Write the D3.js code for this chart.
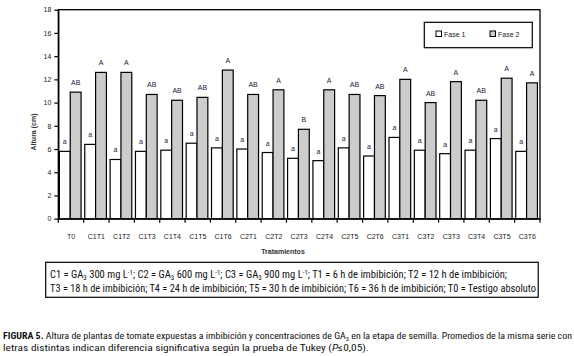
<!DOCTYPE html>
<html>
<head>
<meta charset="utf-8">
<script src="https://cdn.jsdelivr.net/npm/d3@7"></script>
<style>
  body { margin: 0; background: #fff; }
  svg { display: block; }
  .tick text { font-family: Arial, "Liberation Sans", sans-serif; font-size: 7px; fill: #222; }
</style>
</head>
<body>
<div id="chart"></div>
<script>
// Data
var categories = ["T0", "C1T1", "C1T2", "C1T3", "C1T4", "C1T5", "C1T6",
                  "C2T1", "C2T2", "C2T3", "C2T4", "C2T5", "C2T6",
                  "C3T1", "C3T2", "C3T3", "C3T4", "C3T5", "C3T6"];
var fase1 = [5.8, 6.4, 5.1, 5.8, 5.9, 6.5, 6.1, 6.0, 5.7, 5.2, 5.0, 6.1, 5.4, 7.0, 5.9, 5.6, 5.9, 6.9, 5.8];
var fase2 = [10.9, 12.6, 12.6, 10.7, 10.2, 10.45, 12.8, 10.7, 11.1, 7.7, 11.1, 10.7, 10.6, 12.0, 10.0, 11.8, 10.2, 12.1, 11.7];
var letras1 = ["a", "a", "a", "a", "a", "a", "a", "a", "a", "a", "a", "a", "a", "a", "a", "a", "a", "a", "a"];
var letras2 = ["AB", "A", "A", "AB", "AB", "AB", "A", "AB", "A", "B", "A", "AB", "AB", "A", "AB", "A", "AB", "A", "A"];
var series = ["Fase 1", "Fase 2"];
var yTicks = [0, 2, 4, 6, 8, 10, 12, 14, 16, 18];

var data = categories.map(function(c, i) {
    return {cat: c, values: [
        {serie: "Fase 1", v: fase1[i], letra: letras1[i]},
        {serie: "Fase 2", v: fase2[i], letra: letras2[i]}
    ]};
});

var W = 574, H = 356;
var plotL = 58.3, plotR = 540, plotT = 9.7, plotB = 218.7;
var font = "Arial, 'Liberation Sans', sans-serif";
var narrow = "'Liberation Sans Narrow', 'Arial Narrow', 'Roboto Condensed', Arial, sans-serif";

var svg = d3.select("#chart")
  .append("svg")
    .attr("width", W)
    .attr("height", H);

// Scales
var x = d3.scaleBand()
    .domain(categories)
    .range([plotL, plotR])
    .padding(0);

var x1 = d3.scaleBand()
    .domain(series)
    .range([0, x.bandwidth()])
    .paddingInner(0)
    .paddingOuter(0.17)
    .align(0.3);

var y = d3.scaleLinear()
    .domain([0, 18])
    .range([plotB, plotT]);

var color = d3.scaleOrdinal().domain(series).range(["#ffffff", "#cccccc"]);

// Frame
svg.append("rect")
    .attr("x", plotL).attr("y", plotT)
    .attr("width", plotR - plotL).attr("height", plotB - plotT)
    .attr("fill", "none").attr("stroke", "#000").attr("stroke-width", 1.3);

// Y axis
var yAxis = svg.append("g")
    .attr("transform", "translate(" + plotL + ",0)")
    .call(d3.axisLeft(y).tickValues(yTicks).tickSize(4).tickSizeOuter(0).tickPadding(3));
yAxis.select(".domain").attr("stroke-width", 1.3);
yAxis.selectAll(".tick line").attr("stroke-width", 1.2);

// X axis: labels centred, ticks at category boundaries
var xAxis = svg.append("g")
    .attr("transform", "translate(0," + plotB + ")")
    .call(d3.axisBottom(x).tickSize(0).tickPadding(15));
xAxis.select(".domain").attr("stroke-width", 1.3);

var bounds = categories.map(function(c) { return x(c); }).concat([plotR]);
svg.append("g")
  .selectAll("line")
  .data(bounds)
  .enter()
  .append("line")
    .attr("x1", function(d) { return d; })
    .attr("x2", function(d) { return d; })
    .attr("y1", plotB)
    .attr("y2", plotB + 4)
    .attr("stroke", "#000")
    .attr("stroke-width", 1.2);

// Bars
var groups = svg.append("g")
  .selectAll("g")
  .data(data)
  .enter()
  .append("g")
    .attr("transform", function(d) { return "translate(" + x(d.cat) + ",0)"; });

groups.selectAll("rect")
  .data(function(d) { return d.values; })
  .enter()
  .append("rect")
    .attr("x", function(d) { return x1(d.serie); })
    .attr("y", function(d) { return y(d.v); })
    .attr("width", x1.bandwidth())
    .attr("height", function(d) { return plotB - y(d.v); })
    .attr("fill", function(d) { return color(d.serie); })
    .attr("stroke", "#000")
    .attr("stroke-width", 1.2);

groups.selectAll("text")
  .data(function(d) { return d.values; })
  .enter()
  .append("text")
    .attr("x", function(d) { return x1(d.serie) + x1.bandwidth() / 2; })
    .attr("y", function(d) { return y(d.v) - 7; })
    .attr("text-anchor", "middle")
    .style("font-family", font)
    .style("font-size", "7px")
    .style("fill", "#1a1a3a")
    .text(function(d) { return d.letra; });

// Axis titles
svg.append("text")
    .attr("transform", "translate(35.5,132) rotate(-90)")
    .attr("text-anchor", "middle")
    .style("font-family", font)
    .style("font-size", "7px")
    .style("font-weight", "bold")
    .style("fill", "#333")
    .text("Altura (cm)");

svg.append("text")
    .attr("x", 283)
    .attr("y", 253.5)
    .attr("text-anchor", "middle")
    .style("font-family", font)
    .style("font-size", "7px")
    .style("font-weight", "bold")
    .style("fill", "#333")
    .text("Tratamientos");

// Legend
var legend = svg.append("g");
legend.append("rect")
    .attr("x", 424.3).attr("y", 22.3)
    .attr("width", 108).attr("height", 25.4)
    .attr("fill", "#fff").attr("stroke", "#000").attr("stroke-width", 1.2);

var legendX = d3.scaleOrdinal().domain(series).range([436, 490]);
var items = legend.selectAll(".item")
  .data(series)
  .enter()
  .append("g")
    .attr("class", "item")
    .attr("transform", function(d) { return "translate(" + legendX(d) + ",31)"; });
items.append("rect")
    .attr("width", 5.5).attr("height", 5.5)
    .attr("fill", function(d) { return color(d); })
    .attr("stroke", "#000").attr("stroke-width", 1);
items.append("text")
    .attr("x", 8).attr("y", 5.5)
    .style("font-family", font)
    .style("font-size", "7px")
    .style("fill", "#222")
    .text(function(d) { return d; });

// Note box
svg.append("rect")
    .attr("x", 45.7).attr("y", 262.3)
    .attr("width", 492.5).attr("height", 35)
    .attr("fill", "none").attr("stroke", "#000").attr("stroke-width", 1.2);

function noteLine(parts, xPos, yPos, len, size) {
    var t = svg.append("text")
        .attr("x", xPos).attr("y", yPos)
        .attr("textLength", len)
        .attr("lengthAdjust", "spacingAndGlyphs")
        .style("font-family", narrow)
        .style("font-size", size + "px")
        .style("fill", "#111");
    parts.forEach(function(p) {
        var s = t.append("tspan").text(p.t);
        if (p.sub) s.attr("baseline-shift", "-25%").style("font-size", (size * 0.65) + "px");
        if (p.sup) s.attr("baseline-shift", "40%").style("font-size", (size * 0.65) + "px");
        if (p.b) s.style("font-weight", "bold");
        if (p.i) s.style("font-style", "italic");
    });
    return t;
}

noteLine([
    {t: "C1 = GA"}, {t: "3", sub: true}, {t: " 300 mg L"}, {t: "-1", sup: true},
    {t: "; C2 = GA"}, {t: "3", sub: true}, {t: " 600 mg L"}, {t: "-1", sup: true},
    {t: "; C3 = GA"}, {t: "3", sub: true}, {t: " 900 mg L"}, {t: "-1", sup: true},
    {t: "; T1 = 6 h de imbibición; T2 = 12 h de imbibición;"}
], 50, 277.5, 457, 10);

noteLine([
    {t: "T3 = 18 h de imbibición; T4 = 24 h de imbibición; T5 = 30 h de imbibición; T6 = 36 h de imbibición; T0 = Testigo absoluto"}
], 50, 291.5, 486, 10);

// Caption
noteLine([
    {t: "FIGURA 5.", b: true},
    {t: " Altura de plantas de tomate expuestas a imbibición y concentraciones de GA"}, {t: "3", sub: true},
    {t: " en la etapa de semilla. Promedios de la misma serie con"}
], 3, 339, 569, 9.5);

noteLine([
    {t: "letras distintas indican diferencia significativa según la prueba de Tukey ("},
    {t: "P", i: true}, {t: "≤0,05)."}
], 3, 350.5, 366, 9.5);
</script>
</body>
</html>
